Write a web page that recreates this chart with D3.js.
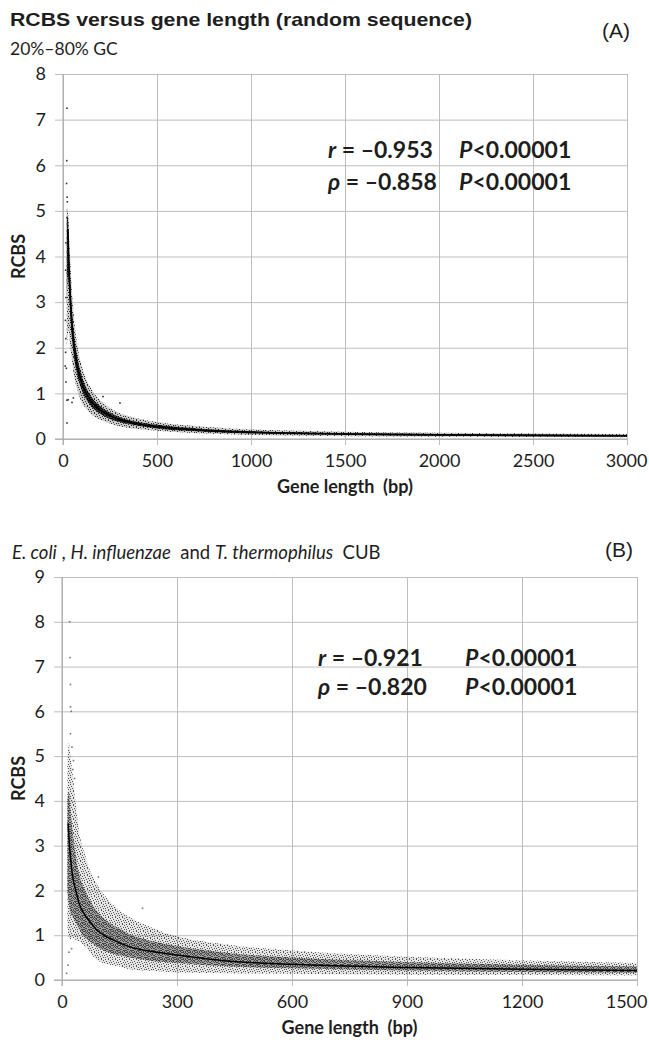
<!DOCTYPE html>
<html>
<head>
<meta charset="utf-8">
<script src="https://cdn.jsdelivr.net/npm/d3@7"></script>
<style>
  body{margin:0;background:#fff;}
  svg text{font-family:Lato,"Open Sans",sans-serif;fill:#1e1e1e;}
  .grid line{stroke:#bdbdbd;stroke-width:1;}
  .grid .domain{display:none;}
</style>
</head>
<body>
<svg id="chart" width="649" height="1047"></svg>
<script>
// ---- panel A : random sequence ----
var xTicksA = [0, 500, 1000, 1500, 2000, 2500, 3000];
var yTicksA = [0, 1, 2, 3, 4, 5, 6, 7, 8];
var fitLenA = [26, 30, 35, 40, 50, 60, 75, 100, 125, 150, 200, 250, 300, 400, 500, 750, 1000, 1500, 2000, 2500, 3000];
var fitA    = [4.6, 4.0, 3.45, 3.0, 2.4, 2.0, 1.63, 1.23, 0.99, 0.83, 0.63, 0.51, 0.43, 0.33, 0.27, 0.19, 0.15, 0.11, 0.09, 0.08, 0.07];
var lenA    = [20, 26, 30, 35, 40, 50, 60, 75, 100, 125, 150, 200, 250, 300, 400, 500, 750, 1000, 1500, 2000, 2500, 3000];
var hiA     = [5.1, 5.0, 4.7, 4.2, 3.8, 3.1, 2.6, 2.1, 1.6, 1.3, 1.1, 0.84, 0.68, 0.57, 0.45, 0.37, 0.27, 0.21, 0.16, 0.135, 0.12, 0.11];
var loA     = [2.0, 2.3, 2.4, 2.2, 2.0, 1.65, 1.35, 1.1, 0.8, 0.66, 0.55, 0.42, 0.34, 0.28, 0.22, 0.18, 0.12, 0.09, 0.06, 0.05, 0.045, 0.04];
var coreHiA = [4.8, 4.9, 4.4, 3.8, 3.35, 2.7, 2.25, 1.83, 1.38, 1.11, 0.93, 0.71, 0.58, 0.48, 0.37, 0.31, 0.22, 0.17, 0.13, 0.11, 0.1, 0.09];
var coreLoA = [3.0, 3.6, 3.4, 3.0, 2.6, 2.1, 1.75, 1.42, 1.07, 0.86, 0.72, 0.55, 0.44, 0.37, 0.29, 0.23, 0.16, 0.12, 0.09, 0.07, 0.06, 0.05];
var strayA  = [[21,7.25],[20,6.1],[19,5.6],[22,5.3],[23,5.2],[21,4.85],[15,4.3],[14,3.7],[16,3.1],[13,2.6],[15,2.2],[14,1.9],[12,1.6],[18,1.55],[16,1.25],[21,0.85],[27,0.86],[48,0.8],[55,0.9],[21,0.35],[213,0.93],[303,0.79]];

// ---- panel B : E. coli, H. influenzae, T. thermophilus ----
var xTicksB = [0, 300, 600, 900, 1200, 1500];
var yTicksB = [0, 1, 2, 3, 4, 5, 6, 7, 8, 9];
var fitLenB = [16, 20, 25, 30, 36, 45, 60, 75, 90, 120, 150, 177, 240, 300, 440, 600, 900, 1200, 1500];
var fitB    = [3.5, 2.95, 2.5, 2.2, 2.0, 1.7, 1.45, 1.28, 1.12, 0.95, 0.83, 0.74, 0.63, 0.56, 0.42, 0.35, 0.28, 0.24, 0.21];
var lenB    = [14, 18, 22, 28, 35, 47, 60, 75, 90, 120, 150, 177, 240, 300, 440, 600, 900, 1200, 1500];
var hiB     = [4.8, 5.3, 5.0, 4.6, 4.0, 3.2, 2.8, 2.4, 2.15, 1.8, 1.55, 1.4, 1.15, 0.98, 0.78, 0.66, 0.52, 0.44, 0.38];
var loB     = [1.2, 0.95, 0.9, 0.95, 0.9, 0.85, 0.75, 0.6, 0.45, 0.35, 0.3, 0.24, 0.2, 0.17, 0.15, 0.14, 0.12, 0.11, 0.1];
var coreHiB = [4.0, 4.2, 3.8, 3.3, 2.8, 2.3, 2.0, 1.75, 1.55, 1.3, 1.15, 1.02, 0.86, 0.76, 0.6, 0.5, 0.4, 0.34, 0.3];
var coreLoB = [2.0, 1.7, 1.5, 1.4, 1.3, 1.1, 0.95, 0.85, 0.75, 0.62, 0.55, 0.5, 0.42, 0.38, 0.3, 0.26, 0.21, 0.18, 0.16];
var strayB  = [[20,8.0],[21,7.2],[22,6.6],[22,6.1],[24,6.0],[22,5.5],[26,5.2],[30,4.9],[28,4.7],[33,4.5],[16,0.33],[12,0.15],[18,0.62],[25,0.7],[210,1.6],[95,2.3]];

var svg = d3.select("#chart");
var defs = svg.append("defs");

// stipple textures for the dense point clouds
function stipple(id, size, cells, color, bg){
  var p = defs.append("pattern").attr("id", id).attr("patternUnits", "userSpaceOnUse")
    .attr("width", size).attr("height", size);
  if(bg) p.append("rect").attr("width", size).attr("height", size).attr("fill", bg);
  cells.forEach(function(c){
    p.append("rect").attr("x", c[0]).attr("y", c[1]).attr("width", 1).attr("height", 1).attr("fill", color);
  });
}
var sparse = [[0,0],[3,0],[5,1],[1,2],[4,3],[6,3],[2,4],[0,5],[5,5],[3,6]];
var dense = sparse.concat([[1,0],[6,0],[2,1],[3,2],[5,2],[0,3],[1,4],[4,5],[6,5],[1,6],[5,6],[4,1]]);
stipple("haloA", 7, sparse, "#333", "rgba(0,0,0,0.2)");
stipple("coreA", 7, dense, "#000", "rgba(0,0,0,0.72)");
stipple("haloB", 7, sparse, "#555", "rgba(0,0,0,0.1)");
stipple("coreB", 7, dense, "#444", "rgba(0,0,0,0.3)");

function panel(o){
  var x = d3.scaleLinear().domain([0, o.xMax]).range([o.left, o.right]);
  var y = d3.scaleLinear().domain([0, o.yMax]).range([o.bottom, o.top]);
  var w = o.right - o.left, h = o.bottom - o.top;

  svg.append("g").attr("class", "grid")
    .attr("transform", "translate(" + o.right + ",0)")
    .call(d3.axisLeft(y).tickValues(o.yTicks).tickSize(w + 8).tickPadding(9).tickFormat(d3.format("d")))
    .call(function(g){ g.selectAll("text").style("font-size", "18px").attr("fill", "#1e1e1e"); });

  svg.append("g").attr("class", "grid")
    .attr("transform", "translate(0," + o.top + ")")
    .call(d3.axisBottom(x).tickValues(o.xTicks).tickSize(h + 6).tickFormat(d3.format("d")))
    .call(function(g){
      g.selectAll("text").style("font-size", "18px").attr("fill", "#1e1e1e")
        .attr("y", h + 28).attr("dy", null);
      // keep the last label inside the page
      g.selectAll("text").filter(function(d){ return d === o.xMax; })
        .attr("text-anchor", "end").attr("x", 647 - o.right);
    });

  svg.append("line").attr("x1", o.left).attr("x2", o.left).attr("y1", o.top).attr("y2", o.bottom + 6)
    .attr("stroke", "#a8a8a8");
  svg.append("line").attr("x1", o.left - 8).attr("x2", o.right).attr("y1", o.bottom).attr("y2", o.bottom)
    .attr("stroke", "#a8a8a8");

  var clipId = "clip" + o.name;
  defs.append("clipPath").attr("id", clipId).append("rect")
    .attr("x", o.left).attr("y", o.top).attr("width", w).attr("height", h);
  var plot = svg.append("g").attr("clip-path", "url(#" + clipId + ")");

  var band = o.len.map(function(d, i){
    return {len: d, lo: o.lo[i], hi: o.hi[i], clo: o.coreLo[i], chi: o.coreHi[i]};
  });
  var outer = d3.area().curve(d3.curveMonotoneX)
    .x(function(d){ return x(d.len); }).y0(function(d){ return y(d.lo); }).y1(function(d){ return y(d.hi); });
  var inner = d3.area().curve(d3.curveMonotoneX)
    .x(function(d){ return x(d.len); }).y0(function(d){ return y(d.clo); }).y1(function(d){ return y(d.chi); });
  plot.append("path").datum(band).attr("d", outer).attr("fill", "url(#halo" + o.name + ")");
  plot.append("path").datum(band).attr("d", inner).attr("fill", "url(#core" + o.name + ")");

  plot.selectAll(".stray").data(o.stray).enter().append("rect")
    .attr("x", function(d){ return x(d[0]) - 0.8; }).attr("y", function(d){ return y(d[1]) - 0.8; })
    .attr("width", 1.6).attr("height", 1.6).attr("fill", o.dot);

  var fit = o.fitLen.map(function(d, i){ return [d, o.fit[i]]; });
  plot.append("path").datum(fit)
    .attr("d", d3.line().curve(d3.curveMonotoneX).x(function(d){ return x(d[0]); }).y(function(d){ return y(d[1]); }))
    .attr("fill", "none").attr("stroke", "#000").attr("stroke-width", o.lineW);

  svg.append("text").attr("transform", "translate(25," + (o.top + h / 2) + ") rotate(-90)")
    .attr("text-anchor", "middle").style("font-size", "18px").style("font-weight", "bold").text("RCBS");
  svg.append("text").attr("x", o.left + w / 2).attr("y", o.bottom + 54)
    .attr("text-anchor", "middle").style("font-size", "18px").style("font-weight", "bold")
    .attr("xml:space", "preserve").text("Gene length  (bp)");

  // correlation statistics
  o.stats.forEach(function(s, i){
    var t = svg.append("text").attr("x", o.statX).attr("y", o.statY + i * o.statDy)
      .style("font-size", "23px").style("font-weight", "bold");
    t.append("tspan").style("font-style", "italic").text(s[0]);
    t.append("tspan").text(" = \u2013" + s[1]);
    var p = svg.append("text").attr("x", o.pX).attr("y", o.statY + i * o.statDy)
      .style("font-size", "23px").style("font-weight", "bold");
    p.append("tspan").style("font-style", "italic").text("P");
    p.append("tspan").text("<0.00001");
  });
}

panel({name: "A", xMax: 3000, yMax: 8, left: 63, right: 627, top: 74, bottom: 439,
  xTicks: xTicksA, yTicks: yTicksA, len: lenA, lo: loA, hi: hiA, coreLo: coreLoA, coreHi: coreHiA,
  fitLen: fitLenA, fit: fitA, stray: strayA, dot: "#333", lineW: 1.6,
  stats: [["r", "0.953"], ["\u03c1", "0.858"]], statX: 328, pX: 459, statY: 158, statDy: 32});

panel({name: "B", xMax: 1500, yMax: 9, left: 62, right: 637, top: 577, bottom: 980,
  xTicks: xTicksB, yTicks: yTicksB, len: lenB, lo: loB, hi: hiB, coreLo: coreLoB, coreHi: coreHiB,
  fitLen: fitLenB, fit: fitB, stray: strayB, dot: "#777", lineW: 1.5,
  stats: [["r", "0.921"], ["\u03c1", "0.820"]], statX: 318, pX: 465, statY: 666, statDy: 29});

// headings
svg.append("text").attr("x", 10).attr("y", 26)
  .style("font-family", "'Liberation Sans', Arial, sans-serif").style("font-size", "19px").style("font-weight", "bold")
  .attr("textLength", 462).attr("lengthAdjust", "spacingAndGlyphs")
  .text("RCBS versus gene length (random sequence)");
svg.append("text").attr("x", 10).attr("y", 55).style("font-size", "17.5px").text("20%\u201380% GC");
svg.append("text").attr("x", 630).attr("y", 38).attr("text-anchor", "end")
  .style("font-family", "'Liberation Sans', Arial, sans-serif").style("font-size", "21px").text("(A)");

var hb = svg.append("text").attr("x", 12).attr("y", 559).style("font-size", "18.5px").attr("xml:space", "preserve");
hb.append("tspan").style("font-style", "italic").text("E. coli");
hb.append("tspan").text(" , ");
hb.append("tspan").style("font-style", "italic").text("H. influenzae");
hb.append("tspan").text("  and ");
hb.append("tspan").style("font-style", "italic").text("T. thermophilus");
hb.append("tspan").text("  CUB");
svg.append("text").attr("x", 633).attr("y", 557).attr("text-anchor", "end")
  .style("font-family", "'Liberation Sans', Arial, sans-serif").style("font-size", "21px").text("(B)");
</script>
</body>
</html>
